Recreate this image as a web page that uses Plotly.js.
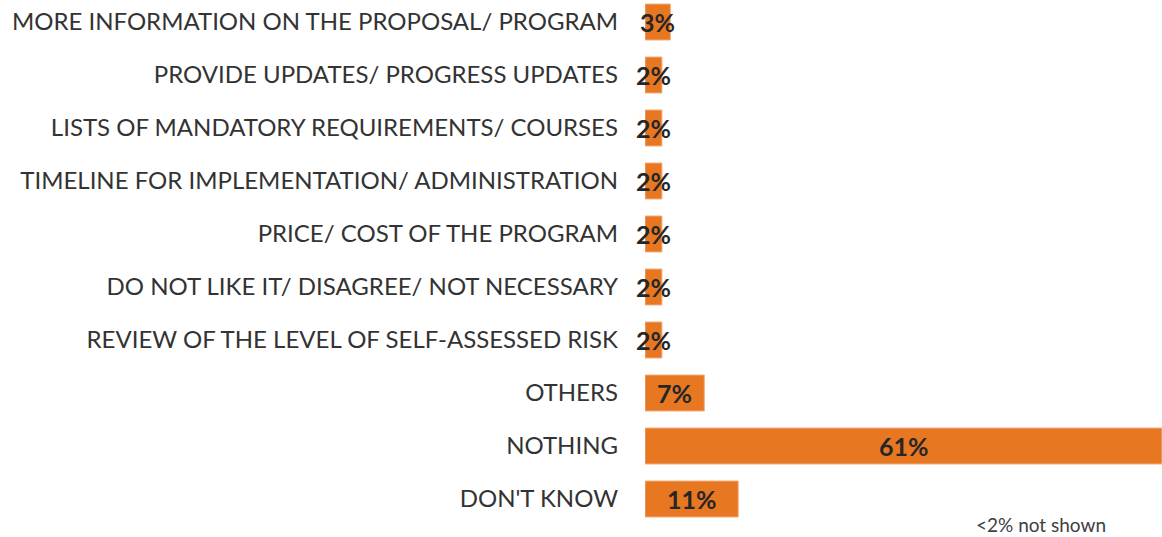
<!DOCTYPE html>
<html>
<head>
<meta charset="utf-8">
<script src="https://cdn.plot.ly/plotly-3.0.1.min.js"></script>
<style>
  html, body { margin: 0; padding: 0; background: #fff; }
  #chart { width: 1162px; height: 537px; }
</style>
</head>
<body>
<div id="chart"></div>
<script>
// answers, top to bottom
const categories = [
    'MORE INFORMATION ON THE PROPOSAL/ PROGRAM',
    'PROVIDE UPDATES/ PROGRESS UPDATES',
    'LISTS OF MANDATORY REQUIREMENTS/ COURSES',
    'TIMELINE FOR IMPLEMENTATION/ ADMINISTRATION',
    'PRICE/ COST OF THE PROGRAM',
    'DO NOT LIKE IT/ DISAGREE/ NOT NECESSARY',
    'REVIEW OF THE LEVEL OF SELF-ASSESSED RISK',
    'OTHERS',
    'NOTHING',
    "DON'T KNOW"
];
const shares = [3, 2, 2, 2, 2, 2, 2, 7, 61, 11];
const footnote = '<2% not shown';

const barColor = '#E87722';

const trace = {
    type: 'bar',
    orientation: 'h',
    x: shares,
    y: categories,
    marker: { color: barColor, line: { color: '#F4B183', width: 1 } },
    hoverinfo: 'skip'
};

// value labels sit centred on each bar, even when the bar is too narrow
const labels = shares.map((v, i) => ({
    x: v / 2,
    y: categories[i],
    xref: 'x', yref: 'y',
    text: '<b>' + v + '%</b>',
    showarrow: false,
    font: { family: 'Lato, sans-serif', size: 25, color: '#262626' }
}));

labels.push({
    x: 0.7665, y: 0,
    xref: 'paper', yref: 'paper',
    xanchor: 'center', yanchor: 'bottom',
    borderpad: 0,
    text: footnote.replace('<', '&lt;'),
    showarrow: false,
    font: { family: 'Lato, sans-serif', size: 19, color: '#404040' }
});

const layout = {
    width: 1162,
    height: 537,
    margin: { l: 645, r: 0, t: 0, b: 0 },
    paper_bgcolor: '#fff',
    plot_bgcolor: '#fff',
    showlegend: false,
    bargap: 0.32,
    xaxis: {
        range: [0, 61],
        visible: false,
        fixedrange: true
    },
    yaxis: {
        type: 'category',
        range: [9.717, -0.415],
        showgrid: false,
        zeroline: false,
        showline: false,
        ticks: '',
        ticklabelstandoff: 26,
        tickfont: { family: 'Lato, sans-serif', size: 24, color: '#333333' },
        fixedrange: true
    },
    annotations: labels
};

Plotly.newPlot('chart', [trace], layout, { displayModeBar: false, staticPlot: true });
</script>
</body>
</html>
